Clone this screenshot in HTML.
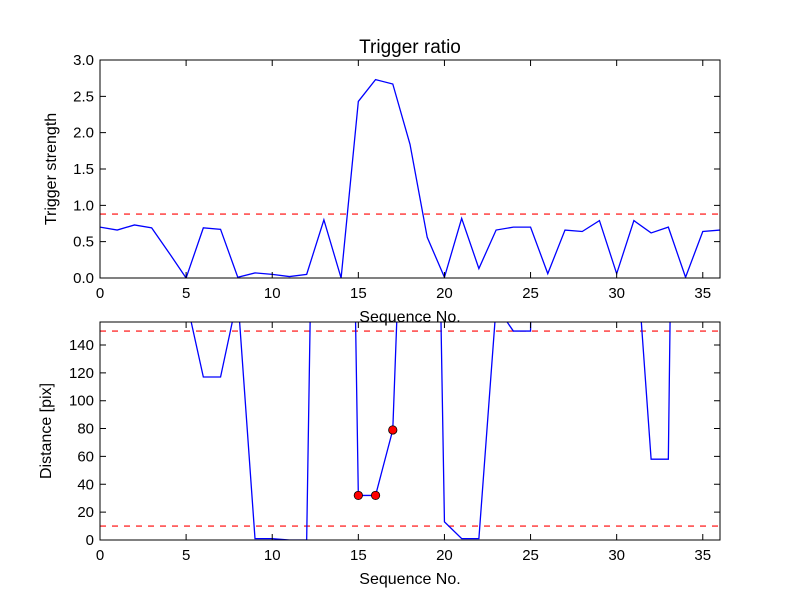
<!DOCTYPE html>
<html><head><meta charset="utf-8"><style>
body{margin:0;background:#fff;}
svg text{font-family:"Liberation Sans","DejaVu Sans",sans-serif;fill:#000;}
</style></head><body>
<svg id="chart" width="800" height="600" viewBox="0 0 800 600" xmlns="http://www.w3.org/2000/svg">
<rect width="800" height="600" fill="#fff"/>
<g id="g"></g>
</svg>
<script>
const seq = [0,1,2,3,4,5,6,7,8,9,10,11,12,13,14,15,16,17,18,19,20,21,22,23,24,25,26,27,28,29,30,31,32,33,34,35,36];
const strength = [0.70,0.66,0.73,0.69,0.35,0.0,0.69,0.67,0.01,0.07,0.05,0.02,0.05,0.80,0.0,2.43,2.73,2.67,1.84,0.56,0.01,0.82,0.13,0.66,0.70,0.70,0.06,0.66,0.64,0.79,0.06,0.79,0.62,0.70,0.01,0.64,0.66];
const strengthThreshold = 0.88;
const distance = [1000,1000,1000,1000,1000,173,117,117,175,1,1,0,0,780,810,32,32,79,416,730,13,1,1,168,150,150,2000,1000,1000,1000,1000,231,58,58,1043,1000,1000];
const distThresholds = [150,10];
const markedSeq = [15,16,17];
const xTicks = [0,5,10,15,20,25,30,35];
const yTicksTop = [0.0,0.5,1.0,1.5,2.0,2.5,3.0];
const yTicksBottom = [0,20,40,60,80,100,120,140];

const NS="http://www.w3.org/2000/svg";
const g=document.getElementById('g');
function el(t,a,p){const e=document.createElementNS(NS,t);for(const k in a)e.setAttribute(k,a[k]);(p||g).appendChild(e);return e;}
const X0=100,X1=720;
const sx=v=>X0+(v-0)/(36-0)*(X1-X0);
const topAx={y0:278,y1:60,min:0,max:3.0};
const botAx={y0:540,y1:322,min:0,max:156.5};
const sy=(ax,v)=>ax.y0-(v-ax.min)/(ax.max-ax.min)*(ax.y0-ax.y1);

function axes(ax,yt,fmt,name,ylabel){
  const grp=el('g',{});
  
  
  const cid='clip-'+name;
  const cp=el('clipPath',{id:cid},grp);
  el('rect',{x:X0,y:ax.y1,width:X1-X0,height:ax.y0-ax.y1},cp);
  const plot=el('g',{'clip-path':'url(#'+cid+')'},grp);
  xTicks.forEach(t=>{
    const x=sx(t);
    const tk=el('path',{d:`M${x},${ax.y0}v-6M${x},${ax.y1}v6`,stroke:'#000','stroke-width':1},grp);
    
    
    const tl=el('text',{x:x,y:ax.y0+20,'text-anchor':'middle','font-size':15},grp);
    
    
    tl.textContent=t;
  });
  yt.forEach(t=>{
    const y=sy(ax,t);
    const tk=el('path',{d:`M${X0},${y}h6M${X1},${y}h-6`,stroke:'#000','stroke-width':1},grp);
    
    
    const tl=el('text',{x:X0-6,y:y+5,'text-anchor':'end','font-size':15},grp);
    
    
    tl.textContent=fmt(t);
  });
  const xl=el('text',{x:(X0+X1)/2,y:ax.y0+44,'text-anchor':'middle','font-size':16},grp);
  
  
  xl.textContent='Sequence No.';
  const cy=(ax.y0+ax.y1)/2;
  const yl=el('text',{x:0,y:0,'text-anchor':'middle','font-size':16,transform:`translate(${name==='top-axes'?56:51},${cy}) rotate(-90)`},grp);
  
  
  yl.textContent=ylabel;
  return {grp,plot};
}

const A=axes(topAx,yTicksTop,v=>v.toFixed(1),'top-axes','Trigger strength');
const th=el('line',{x1:X0,x2:X1,y1:sy(topAx,strengthThreshold),y2:sy(topAx,strengthThreshold),stroke:'#ff0000','stroke-width':1.2,'stroke-dasharray':'6,6'},A.plot);


const l1=el('polyline',{points:seq.map((s,i)=>sx(s)+','+sy(topAx,strength[i])).join(' '),fill:'none',stroke:'#0000ff','stroke-width':1.3},A.plot);


el('rect',{x:X0,y:topAx.y1,width:X1-X0,height:topAx.y0-topAx.y1,fill:'none',stroke:'#000','stroke-width':1},A.grp);

const B=axes(botAx,yTicksBottom,v=>String(v),'bottom-axes','Distance [pix]');
distThresholds.forEach(t=>{
  const l=el('line',{x1:X0,x2:X1,y1:sy(botAx,t),y2:sy(botAx,t),stroke:'#ff0000','stroke-width':1.2,'stroke-dasharray':'6,6'},B.plot);
  
  
});
const l2=el('polyline',{points:seq.map((s,i)=>sx(s)+','+sy(botAx,distance[i])).join(' '),fill:'none',stroke:'#0000ff','stroke-width':1.3},B.plot);


markedSeq.forEach(s=>{
  const c=el('circle',{cx:sx(s),cy:sy(botAx,distance[seq.indexOf(s)]),r:4.2,fill:'#ff0000',stroke:'#000','stroke-width':0.8},B.grp);
  
  
});
el('rect',{x:X0,y:botAx.y1,width:X1-X0,height:botAx.y0-botAx.y1,fill:'none',stroke:'#000','stroke-width':1},B.grp);

const title=el('text',{x:(X0+X1)/2,y:53,'text-anchor':'middle','font-size':19});


title.textContent='Trigger ratio';
</script>
</body></html>
